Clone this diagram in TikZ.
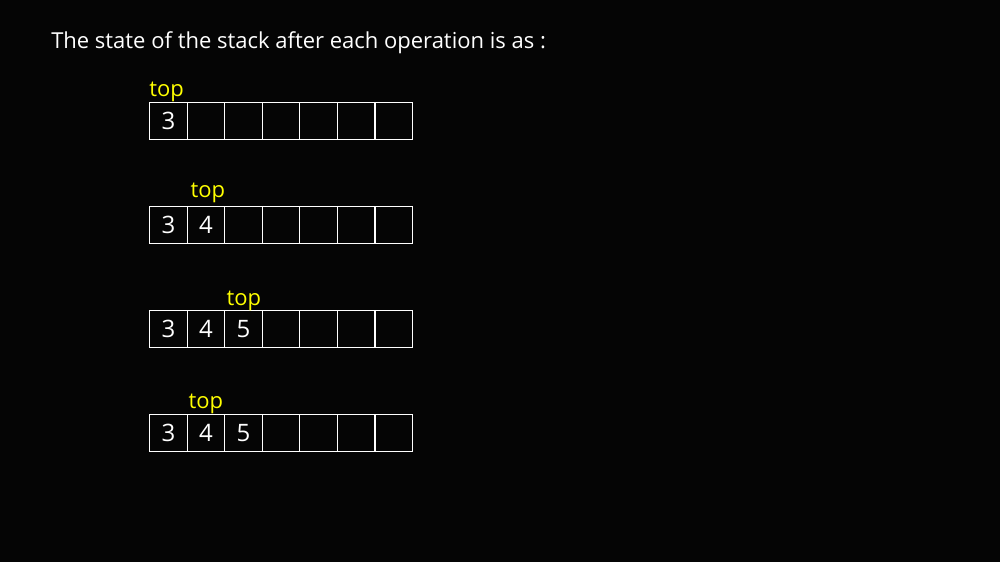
\documentclass[tikz,border=0pt]{standalone}
\usepackage{fontspec}
\setmainfont{Open Sans}
\definecolor{bg}{HTML}{050505}
\definecolor{topyellow}{HTML}{FFFF00}
\begin{document}
\begin{tikzpicture}[x=0.75pt,y=-0.75pt,
  cell/.style={draw=white,line width=0.9pt,minimum width=37.57*0.75pt,minimum height=37*0.75pt,inner sep=0pt,anchor=north west},
  digit/.style={text=white,inner sep=0pt,font=\fontsize{18}{20}\selectfont},
  toplabel/.style={text=topyellow,anchor=base,inner sep=0pt,font=\fontsize{16.5}{18}\selectfont},
  title/.style={text=white,anchor=base west,inner sep=0pt,font=\fontsize{16.5}{18}\selectfont}]
\fill[bg] (0,0) rectangle (1000,562);
\useasboundingbox (0,0) rectangle (1000,562);
\node[title] (title) at (51,48.3) {The state of the stack after each operation is as :};
% rows
\foreach \r/\y in {1/102,2/206,3/310,4/414}{
  \foreach \c in {1,...,7}{
    \node[cell] (r\r c\c) at ({149+(\c-1)*37.57},\y) {};
  }
}
\node[digit] (v11) at (r1c1.center) {3};
\node[digit] (v21) at (r2c1.center) {3};
\node[digit] (v22) at (r2c2.center) {4};
\node[digit] (v31) at (r3c1.center) {3};
\node[digit] (v32) at (r3c2.center) {4};
\node[digit] (v33) at (r3c3.center) {5};
\node[digit] (v41) at (r4c1.center) {3};
\node[digit] (v42) at (r4c2.center) {4};
\node[digit] (v43) at (r4c3.center) {5};
\node[toplabel] (top1) at (166.7,96) {top};
\node[toplabel] (top2) at (207.8,197) {top};
\node[toplabel] (top3) at (243.8,305.5) {top};
\node[toplabel] (top4) at (205.8,408) {top};
\end{tikzpicture}
\end{document}
